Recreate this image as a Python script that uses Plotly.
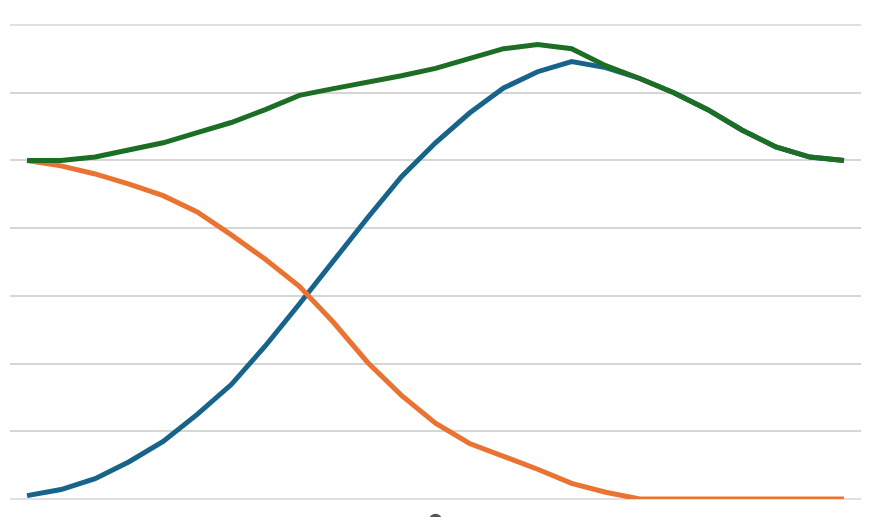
import plotly.graph_objects as go

periods = list(range(25))

series_blue = [0.05, 0.14, 0.30, 0.55, 0.85, 1.25, 1.69, 2.26, 2.88, 3.52, 4.15, 4.76,
               5.26, 5.70, 6.07, 6.31, 6.46, 6.37, 6.21, 6.00, 5.75, 5.45, 5.20, 5.05, 5.00]
series_orange = [5.00, 4.92, 4.80, 4.65, 4.48, 4.24, 3.90, 3.54, 3.14, 2.61, 2.02, 1.53,
                 1.12, 0.82, 0.63, 0.44, 0.23, 0.10, 0.0, 0.0, 0.0, 0.0, 0.0, 0.0, 0.0]
series_green = [5.00, 5.00, 5.05, 5.16, 5.26, 5.41, 5.56, 5.75, 5.96, 6.06, 6.15, 6.25,
                6.36, 6.50, 6.65, 6.71, 6.65, 6.40, 6.21, 6.00, 5.75, 5.45, 5.20, 5.05, 5.00]

y_ticks = [0, 1, 2, 3, 4, 5, 6, 7]
grid_color = "#d6d6d6"

fig = go.Figure()
fig.add_trace(go.Scatter(x=periods, y=series_blue, mode="lines",
                         line=dict(color="#18638a", width=5), showlegend=False))
fig.add_trace(go.Scatter(x=periods, y=series_orange, mode="lines",
                         line=dict(color="#eb7332", width=5), showlegend=False))
fig.add_trace(go.Scatter(x=periods, y=series_green, mode="lines",
                         line=dict(color="#1c6e24", width=5), showlegend=False))

# gridlines at the range edges (plotly omits them)
for yv in (0, 1):
    fig.add_shape(type="line", xref="paper", yref="paper", x0=0, x1=1, y0=yv, y1=yv,
                  line=dict(color=grid_color, width=1.5), layer="below")

fig.add_shape(type="circle", xref="paper", yref="paper",
              x0=0.4924, x1=0.5076, y0=-0.058, y1=-0.031,
              fillcolor="#555555", line=dict(width=0))

fig.update_layout(
    width=871, height=517,
    margin=dict(l=10, r=10, t=25, b=18),
    paper_bgcolor="white", plot_bgcolor="white",
    xaxis=dict(range=[-0.5, 24.5], showgrid=False, zeroline=False,
               showticklabels=False, showline=False, ticks=""),
    yaxis=dict(range=[0, 7], tickvals=y_ticks, showgrid=True, gridcolor=grid_color,
               gridwidth=1.5, zeroline=False, showticklabels=False,
               showline=False, ticks=""),
)

fig.write_html("out.html")
